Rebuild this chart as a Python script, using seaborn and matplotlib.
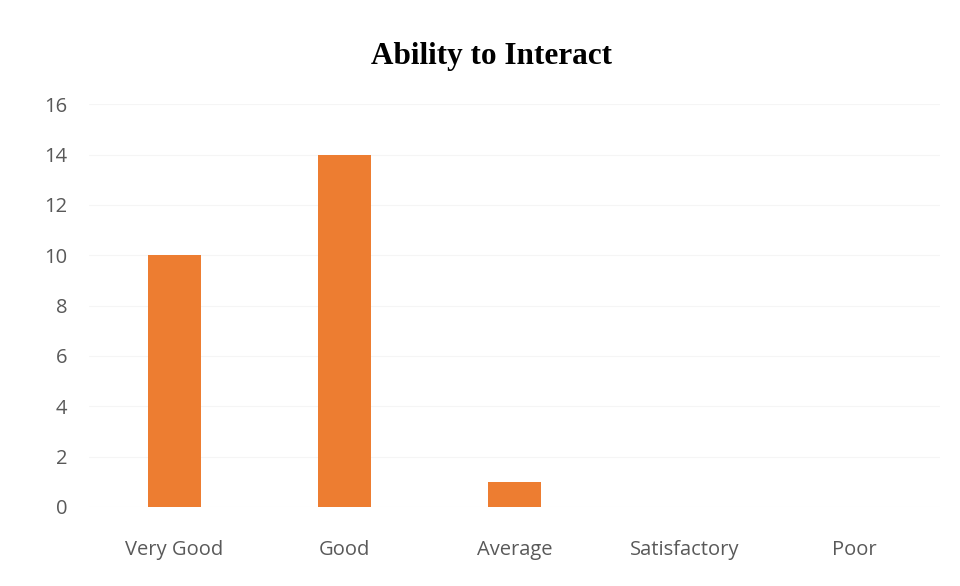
import pandas as pd
import matplotlib.pyplot as plt
import seaborn as sns

# chart values
categories = ['Very Good', 'Good', 'Average', 'Satisfactory', 'Poor']
counts = [10, 14, 1, 0, 0]
yticks = [0, 2, 4, 6, 8, 10, 12, 14, 16]

df = pd.DataFrame({'rating': categories, 'count': counts})

sns.set_theme(style='white')
plt.rcParams['font.family'] = ['Open Sans', 'DejaVu Sans']

fig = plt.figure(figsize=(9.6, 5.86), dpi=100)
ax = fig.add_axes([0.093, 0.135, 0.886, 0.687])

sns.barplot(data=df, x='rating', y='count', color='#ED7D31', width=0.31,
            saturation=1, linewidth=0, ax=ax)

ax.set_ylim(0, 16)
ax.set_yticks(yticks)
ax.yaxis.grid(True, color='#f5f5f5', linewidth=0.8)
ax.set_axisbelow(True)
for s in ax.spines.values():
    s.set_visible(False)
ax.tick_params(axis='both', length=0, colors='#595959', labelsize=14.5)
ax.tick_params(axis='y', pad=16)
ax.tick_params(axis='x', pad=24)
ax.set_xlabel('')
ax.set_ylabel('')

fig.text(0.512, 0.903, 'Ability to Interact', ha='center', va='center',
         fontsize=22.5, fontweight='bold', family='Liberation Serif', color='black')

fig.savefig('out.png', dpi=100)
